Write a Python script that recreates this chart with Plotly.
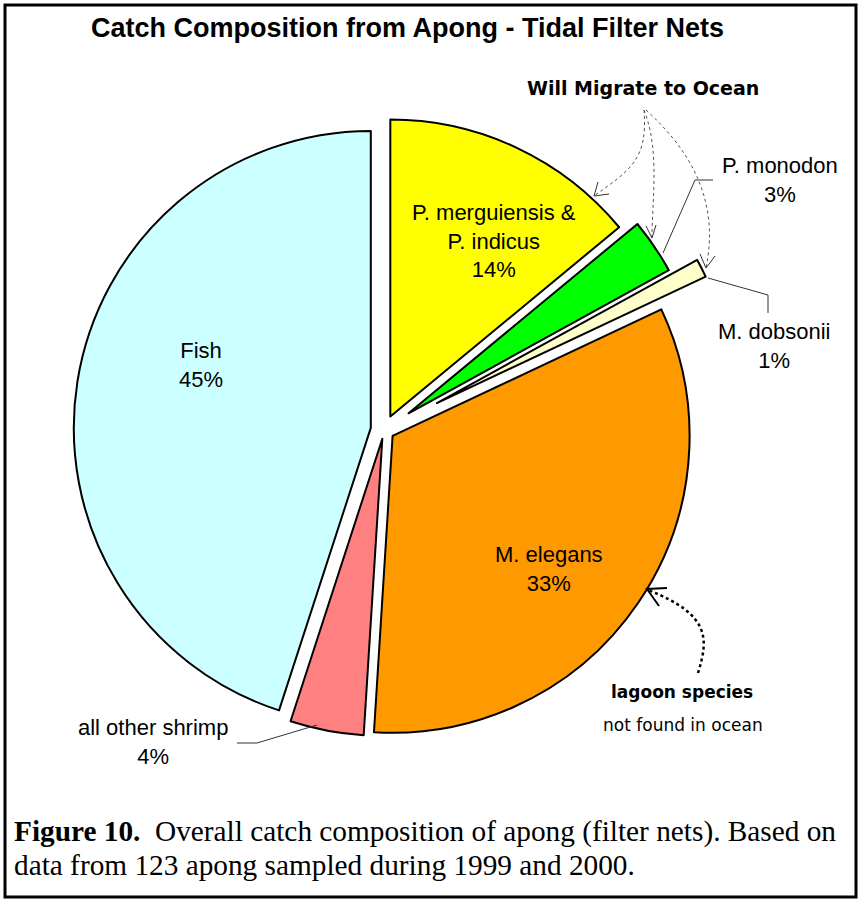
import plotly.graph_objects as go

W, H = 861, 902

# ---- data ----
labels = ["P. merguiensis & P. indicus", "P. monodon", "M. dobsonii",
          "M. elegans", "all other shrimp", "Fish"]
display_labels = ["P. merguiensis &<br>P. indicus", "P. monodon", "M. dobsonii",
                  "M. elegans", "all other shrimp", "Fish"]
values = [14, 3, 1, 33, 4, 45]
colors = ["#FFFF00", "#00FF00", "#FFFFCC", "#FF9900", "#FF8080", "#CCFFFF"]
pulls = [0.05, 0.10, 0.20, 0.035, 0.03, 0.045]

title_text = "Catch Composition from Apong - Tidal Filter Nets"
caption_bold = "Figure 10."
caption_line1 = "Overall catch composition of apong (filter nets). Based on"
caption_line2 = "data from 123 apong sampled during 1999 and 2000."

# label positions (pixels) for each slice label
label_pos = [(494, 241), (780, 180), (774, 346), (549, 569), (153, 742), (201, 365)]


def X(px):
    return px / W


def Y(py):
    return 1 - py / H


# pie geometry: centre (384, 430), radius 297 px
cx, cy, r = 384, 430, 297
half = r * (1 + max(pulls))
dom_x = [X(cx - half), X(cx + half)]
dom_y = [Y(cy + half), Y(cy - half)]

fig = go.Figure()
fig.add_trace(go.Pie(
    labels=labels, values=values, sort=False, direction="clockwise", rotation=0,
    pull=pulls, marker=dict(colors=colors, line=dict(color="black", width=2)),
    textinfo="none", hoverinfo="label+percent", showlegend=False,
    domain=dict(x=dom_x, y=dom_y),
))


def ann(px, py, text, size, family, xanchor="center", align="center"):
    return dict(x=X(px), y=Y(py), xref="paper", yref="paper", showarrow=False,
                xanchor=xanchor, yanchor="middle", align=align, text=text,
                font=dict(family=family, size=size, color="black"))


SANS = "Liberation Sans, Arial"
total = sum(values)
annotations = []
for lab, v, (px, py) in zip(display_labels, values, label_pos):
    pct = round(100 * v / total)
    annotations.append(ann(px, py, f"{lab}<br>{pct}%", 22, SANS))

annotations.append(ann(407, 28, f"<b>{title_text}</b>", 27, SANS))
annotations.append(ann(643, 88, "<b>Will Migrate to Ocean</b>", 19, "DejaVu Sans"))
annotations.append(ann(682, 692, "<b>lagoon species</b>", 17, "DejaVu Sans"))
annotations.append(ann(683, 725, "not found in ocean", 17, "DejaVu Sans"))
SERIF = "Liberation Serif, Times New Roman"
annotations.append(ann(12, 831, f"<b>{caption_bold}</b>\u00a0\u00a0{caption_line1}",
                       29.3, SERIF, xanchor="left", align="left"))
annotations.append(ann(12, 865, caption_line2, 29.3, SERIF, xanchor="left", align="left"))


def path(pts):
    s = f"M {X(pts[0][0])} {Y(pts[0][1])}"
    for p in pts[1:]:
        s += f" L {X(p[0])} {Y(p[1])}"
    return s


def curve(p0, c1, c2, p1):
    return (f"M {X(p0[0])} {Y(p0[1])} C {X(c1[0])} {Y(c1[1])} "
            f"{X(c2[0])} {Y(c2[1])} {X(p1[0])} {Y(p1[1])}")


shapes = []
# outer border
shapes.append(dict(type="rect", xref="paper", yref="paper",
                   x0=X(5), x1=X(856), y0=Y(897), y1=Y(5),
                   line=dict(color="black", width=3)))
# leader lines
leader = dict(color="#333333", width=1)
for pts in [[(663, 253), (695, 180), (713, 180)],
            [(708, 278), (768, 295), (768, 313)],
            [(317, 725), (257, 743), (237, 743)]]:
    shapes.append(dict(type="path", xref="paper", yref="paper",
                       path=path(pts), line=leader))

# dotted arrows from "Will Migrate to Ocean"
dot = dict(color="#555555", width=1, dash="dot")
for c in [curve((644, 110), (648, 160), (630, 170), (594, 196)),
          curve((644, 110), (660, 150), (652, 200), (652, 238)),
          curve((646, 110), (690, 150), (720, 200), (706, 268))]:
    shapes.append(dict(type="path", xref="paper", yref="paper", path=c, line=dot))
head = dict(color="#333333", width=1)
for pts in [[(598, 182), (594, 196), (609, 194)],
            [(646, 226), (652, 238), (656, 225)],
            [(700, 254), (706, 268), (715, 256)]]:
    shapes.append(dict(type="path", xref="paper", yref="paper", path=path(pts), line=head))

# lagoon arrow
shapes.append(dict(type="path", xref="paper", yref="paper",
                   path=curve((698, 673), (708, 640), (712, 615), (648, 590)),
                   line=dict(color="black", width=2.5, dash="dot")))
shapes.append(dict(type="path", xref="paper", yref="paper",
                   path=path([(667, 588), (647, 589), (659, 606)]),
                   line=dict(color="black", width=2)))

fig.update_layout(
    width=W, height=H, margin=dict(l=0, r=0, t=0, b=0),
    paper_bgcolor="white", plot_bgcolor="white",
    annotations=annotations, shapes=shapes,
)
fig.write_html("out.html", config={"displayModeBar": False},
               post_script="document.body.style.margin='0';"
                           "document.body.style.overflow='hidden';")
